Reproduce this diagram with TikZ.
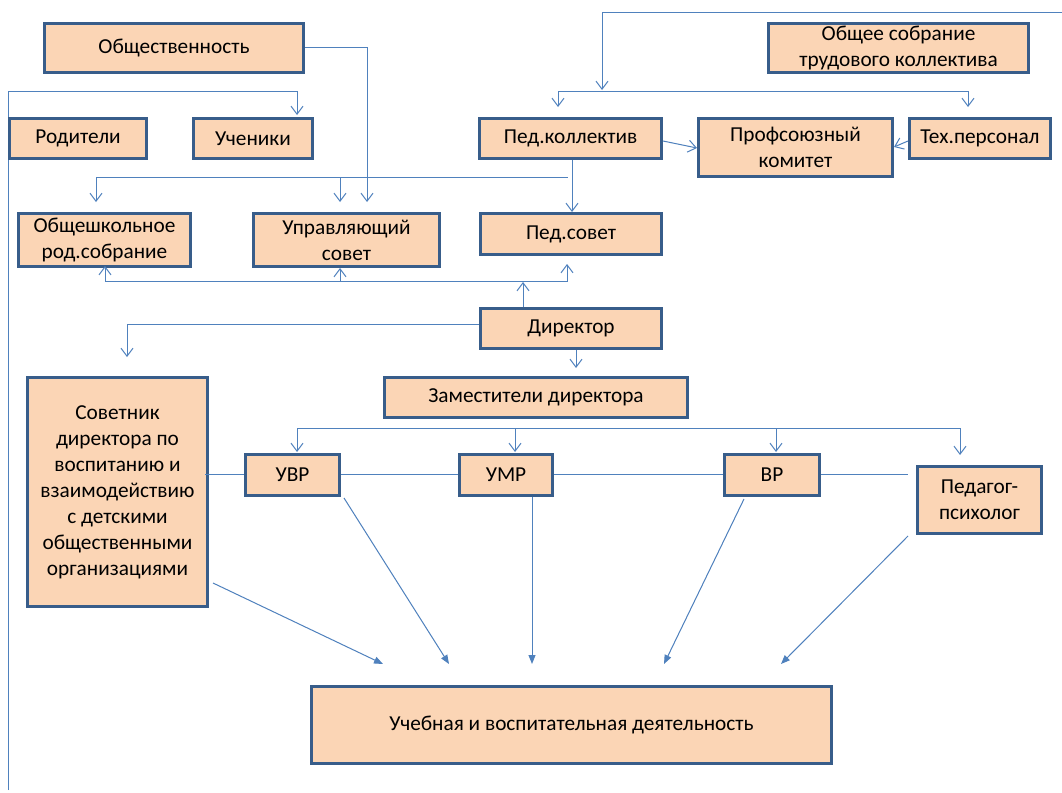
\documentclass[tikz,border=0pt]{standalone}
\usepackage{fontspec}
\setmainfont{Carlito}
\usetikzlibrary{arrows.meta}
\definecolor{boxfill}{HTML}{FBD5B5}
\definecolor{boxline}{HTML}{385D8A}
\definecolor{lnc}{HTML}{4F81BD}
\tikzset{
  box/.style={draw=boxline, fill=boxfill, line width=3pt, inner sep=0pt, align=center,
    font=\fontsize{21.3}{26}\selectfont},
  conn/.style={draw=lnc, line width=1pt},
  open/.style={conn, -{Straight Barb[length=8pt,width=12pt,line width=1pt]}},
  openstart/.style={conn, {Straight Barb[length=8pt,width=12pt,line width=1pt]}-},
  openboth/.style={conn, {Straight Barb[length=8pt,width=12pt,line width=1pt]}-{Straight Barb[length=8pt,width=12pt,line width=1pt]}},
  filled/.style={conn, -{Triangle[length=9pt,width=7pt]}},
}
\newcommand\bx[6]{\node[box, minimum width={#4-#2-3}, minimum height={#5-#3-3}] (#1) at ({(#2+#4)/2},{(#3+#5)/2}) {#6};}
\begin{document}
\begin{tikzpicture}[x=1pt,y=-1pt]
\useasboundingbox (0,0) rectangle (1062,792);
\fill[white] (0,0) rectangle (1062,792);

% left long line and top line (behind boxes)
\coordinate (leftbot) at (8,790);
\coordinate (uchtip) at (297,115);
\draw[open] (leftbot) |- (uchtip |- 0,91) -- (uchtip);
\coordinate (topright) at (1062,13);
\coordinate (toptip) at (602,90);
\draw[open] (topright) -| (toptip);

% boxes
\bx{obsh}{43}{22}{305}{74}{Общественность}
\bx{rod}{8}{117}{148}{160}{Родители}
\bx{uch}{192}{117}{314}{160}{Ученики}
\bx{pedk}{478}{117}{663}{160}{Пед.коллектив}
\bx{prof}{697}{117}{894}{178}{Профсоюзный\\комитет}
\bx{tech}{908}{117}{1052}{160}{Тех.персонал}
\bx{sobr}{767}{22}{1030}{74}{Общее собрание\\трудового коллектива}
\bx{obshrod}{17}{212}{192}{268}{Общешкольное\\род.собрание}
\bx{upr}{252}{212}{441}{268}{Управляющий\\совет}
\bx{peds}{479}{212}{663}{256}{Пед.совет}
\bx{dir}{479}{307}{663}{350}{Директор}
\bx{zam}{383}{376}{689}{419}{Заместители директора}
\bx{sov}{26}{376}{209}{608}{Советник\\директора по\\воспитанию и\\взаимодействию\\с детскими\\общественными\\организациями}
\bx{uvr}{244}{453}{341}{497}{УВР}
\bx{umr}{458}{453}{554}{497}{УМР}
\bx{vr}{723}{453}{821}{497}{ВР}
\bx{psy}{916}{465}{1043}{535}{Педагог-\\психолог}
\bx{ucheb}{310}{685}{833}{765}{Учебная и воспитательная деятельность}

% top branch from общее собрание line
\draw[openboth] (558,107) -- (558,91) -- (968,91) -- (968,107);

% Пед.коллектив -> Профсоюзный, Тех.персонал -> Профсоюзный
\draw[open] (pedk.east |- 0,141) -- (prof.west |- 0,148);
\draw[open] (tech.west |- 0,141) -- (prof.east |- 0,147);

% Общественность -> Управляющий совет
\draw[open] (obsh.east) -| (367,202);

% branch y=177
\draw[openstart] (96,202) -- (96,177) -- (568,177);
\draw[open] (340,177) -- (340,202);
\draw[open] (pedk.south -| 572,0) -- (peds.north -| 572,0);

% Директор up
\draw[open] (dir.north -| 523,0) -- (523,282);
\draw[openboth] (105,266) -- (105,281) -- (567,281) -- (567,264);
\draw[open] (340,281) -- (340,268);

% Директор left and down
\draw[open] (dir.west |- 0,324) -| (127,357);
\draw[open] (dir.south -| 576,0) -- (576,368);

% Заместители branch
\draw[openboth] (297,452) -- (297,428) -- (960,428) -- (960,455);
\draw[open] (515,428) -- (515,452);
\draw[open] (776,428) -- (776,452);

% horizontal connection
\coordinate (hl) at (205,474);
\coordinate (hr) at (908,474);
\draw[conn] (hl) -- (uvr.west |- hl);
\draw[conn] (uvr.east |- hl) -- (umr.west |- hl);
\draw[conn] (umr.east |- hl) -- (vr.west |- hl);
\draw[conn] (vr.east |- hl) -- (hr);

% arrows to Учебная
\draw[filled] (213,583) -- (383,664);
\draw[filled] (344,498) -- (449,664);
\draw[filled] (umr.south -| 532,0) -- (532,664);
\draw[filled] (744,499) -- (664,664);
\draw[filled] (908,536) -- (781,664);
\end{tikzpicture}
\end{document}
